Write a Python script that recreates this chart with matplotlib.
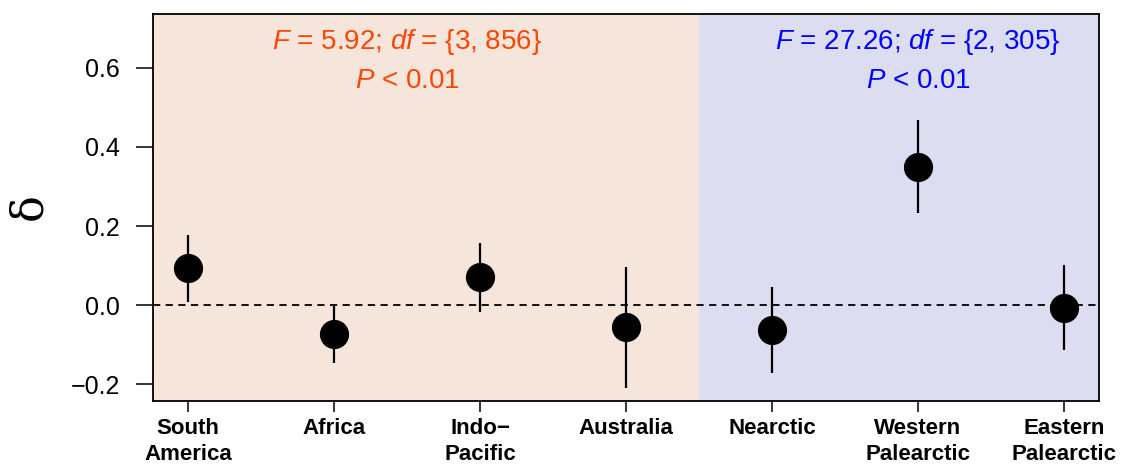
import numpy as np
import matplotlib
matplotlib.use('Agg')
import matplotlib.pyplot as plt

# 字体设置
plt.rcParams['font.family'] = ['Liberation Sans', 'DejaVu Sans']
plt.rcParams['mathtext.fontset'] = 'custom'
plt.rcParams['mathtext.rm'] = 'Liberation Sans'
plt.rcParams['mathtext.it'] = 'Liberation Sans:italic'

# 数据
regions = ['South\nAmerica', 'Africa', 'Indo\u2212\nPacific', 'Australia',
           'Nearctic', 'Western\nPalearctic', 'Eastern\nPalearctic']
delta = [0.093, -0.072, 0.072, -0.056, -0.063, 0.350, -0.008]
ci_low = [0.008, -0.146, -0.017, -0.208, -0.171, 0.233, -0.114]
ci_high = [0.177, -0.001, 0.158, 0.097, 0.046, 0.467, 0.101]
yticks = [-0.2, 0.0, 0.2, 0.4, 0.6]

left_text = r'$F$ = 5.92; $df$ = {3, 856}'
right_text = r'$F$ = 27.26; $df$ = {2, 305}'
p_text = r'$P$ < 0.01'

x = np.arange(1, len(regions) + 1)

fig = plt.figure(figsize=(11.26, 4.71), dpi=100)
ax = fig.add_axes([153 / 1126, 70 / 471, 946 / 1126, 387.5 / 471])

ax.set_xlim(0.76, 7.24)
ax.set_ylim(-0.242, 0.737)

# 背景区域
ax.axvspan(0.76, 4.5, color='#F6E5DB', zorder=0, lw=0)
ax.axvspan(4.5, 7.24, color='#DCDDF0', zorder=0, lw=0)

ax.axhline(0, color='black', lw=1.3, ls=(0, (4, 3)), zorder=1)

ax.vlines(x, ci_low, ci_high, color='black', lw=1.6, zorder=2)
ax.plot(x, delta, 'o', color='black', ms=20, zorder=3)

ax.text(2.5, 0.664, left_text, color='#FF4500', fontsize=20, ha='center', va='center')
ax.text(2.5, 0.566, p_text, color='#FF4500', fontsize=20, ha='center', va='center')
ax.text(6, 0.664, right_text, color='#0000FF', fontsize=20, ha='center', va='center')
ax.text(6, 0.566, p_text, color='#0000FF', fontsize=20, ha='center', va='center')

ax.set_xticks(x)
ax.set_xticklabels(regions, fontsize=16, fontweight='bold', linespacing=1.35)
ax.set_yticks(yticks)
ax.set_yticklabels(['\u22120.2', '0.0', '0.2', '0.4', '0.6'], fontsize=18)
ax.tick_params(axis='y', length=12, width=1.1, pad=12)
ax.tick_params(axis='x', length=8, width=1.1, pad=4)
for s in ax.spines.values():
    s.set_linewidth(1.3)

fig.text(29 / 1126, 1 - 207 / 471, '\u03b4', fontsize=32, rotation=90,
         ha='center', va='center', family=['DejaVu Serif'])

plt.savefig('out.png', dpi=100)
